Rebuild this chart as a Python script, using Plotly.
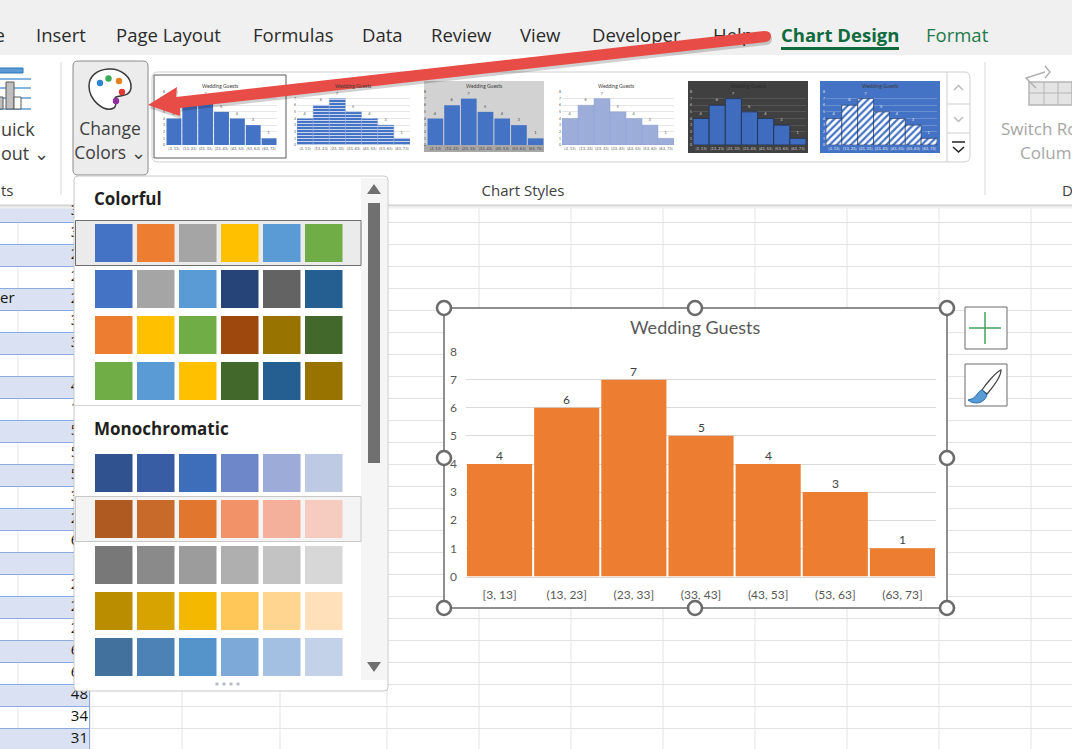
import plotly.graph_objects as go

# chart data
bins = ["[3, 13]", "(13, 23]", "(23, 33]", "(33, 43]", "(43, 53]", "(53, 63]", "(63, 73]"]
guests = [4, 6, 7, 5, 4, 3, 1]
y_ticks = [0, 1, 2, 3, 4, 5, 6, 7, 8]
chart_title = "Wedding Guests"

# palette rows in the Change Colors menu
colorful = [
    ["#4472C4", "#ED7D31", "#A5A5A5", "#FFC000", "#5B9BD5", "#70AD47"],
    ["#4472C4", "#A5A5A5", "#5B9BD5", "#264478", "#636363", "#255E91"],
    ["#ED7D31", "#FFC000", "#70AD47", "#9E480E", "#997300", "#43682B"],
    ["#70AD47", "#5B9BD5", "#FFC000", "#43682B", "#255E91", "#997300"],
]
monochromatic = [
    ["#30528F", "#385DA5", "#3E6DB9", "#6E87C8", "#9DABD8", "#BEC9E3"],
    ["#AE5A21", "#C76A2A", "#E1762F", "#F29268", "#F4B09B", "#F6CBC0"],
    ["#787878", "#8A8A8A", "#9C9C9C", "#AFAFAF", "#C3C3C3", "#D7D7D7"],
    ["#BA8C00", "#D7A300", "#F4B800", "#FFC758", "#FFD58F", "#FFE0BA"],
    ["#41719C", "#4C82B5", "#5593CB", "#7DA9D8", "#A3BFE2", "#C3D2E9"],
]

# spreadsheet column behind the menu, mostly hidden
sheet_values = ["35", "31", "25", "27", "24", "33", "36", "", "42", "18", "52", "50", "55", "30",
                "27", "60", "", "23", "29", "26", "63", "64", "48", "34", "31"]

tabs = ["Insert", "Page Layout", "Formulas", "Data", "Review", "View", "Developer", "Help"]
tab_x = [36, 116, 253, 362, 431, 520, 592, 713]

W, H = 1072, 749
FONT_UI = "Open Sans"
FONT_CHART = "Lato"
GREY_TEXT = "#595959"

shapes = []
notes = []
fig = go.Figure()


def rect(x0, y0, x1, y1, fill="rgba(0,0,0,0)", line=None, width=1, layer="below"):
    shapes.append(dict(type="rect", xref="x", yref="y", x0=x0, y0=y0, x1=x1, y1=y1, fillcolor=fill,
                       line=dict(color=line or "rgba(0,0,0,0)", width=width if line else 0), layer=layer))


def hline(x0, x1, y, color, width=1, layer="below"):
    shapes.append(dict(type="line", xref="x", yref="y", x0=x0, x1=x1, y0=y, y1=y,
                       line=dict(color=color, width=width), layer=layer))


def vline(x, y0, y1, color, width=1, layer="below"):
    shapes.append(dict(type="line", xref="x", yref="y", x0=x, x1=x, y0=y0, y1=y1,
                       line=dict(color=color, width=width), layer=layer))


def path(d, fill="rgba(0,0,0,0)", line=None, width=1, layer="below", opacity=1):
    shapes.append(dict(type="path", xref="x", yref="y", path=d, fillcolor=fill, opacity=opacity,
                       line=dict(color=line or "rgba(0,0,0,0)", width=width if line else 0), layer=layer))


def round_rect(x0, y0, x1, y1, r=5, **kw):
    d = (f"M {x0+r} {y0} L {x1-r} {y0} Q {x1} {y0} {x1} {y0+r} L {x1} {y1-r} Q {x1} {y1} {x1-r} {y1} "
         f"L {x0+r} {y1} Q {x0} {y1} {x0} {y1-r} L {x0} {y0+r} Q {x0} {y0} {x0+r} {y0} Z")
    path(d, **kw)


def circle(cx, cy, r, fill, line=None, width=1, layer="above"):
    shapes.append(dict(type="circle", xref="x", yref="y", x0=cx-r, x1=cx+r, y0=cy-r, y1=cy+r, fillcolor=fill,
                       line=dict(color=line or "rgba(0,0,0,0)", width=width if line else 0), layer=layer))


def ui_text(text, x, y, size=18, color="#262626", pos="middle right", font=FONT_UI):
    # text that the arrow and the menu have to cover goes in as a trace
    if not isinstance(text, list):
        text, x, y = [text], [x], [y]
    fig.add_trace(go.Scatter(x=x, y=y, text=text, mode="text", textposition=pos, cliponaxis=False,
                             textfont=dict(size=size, color=color, family=font),
                             hoverinfo="skip", xaxis="x", yaxis="y"))


def note(text, x, y, size=18, color="#262626", anchor="left", bold=False, font=FONT_UI):
    notes.append(dict(text=f"<b>{text}</b>" if bold else text, x=x, y=y, xref="x", yref="y", showarrow=False,
                      xanchor=anchor, yanchor="middle", font=dict(size=size, color=color, family=font)))


# --- spreadsheet behind everything
for x in [90, 182, 280, 387, 479, 571, 663, 755, 847, 939, 1031]:
    vline(x, 205, H, "#E3E3E3")
for i in range(25):
    hline(90, W, 200.5 + 22 * i, "#E3E3E3")
for i in range(25):
    top = 200.5 + 22 * i
    if i % 2 == 0:
        rect(0, top, 89, top + 22, fill="#D9E1F2")
    else:
        vline(18, top, top + 22, "#E3E3E3")
for i in range(26):
    hline(0, 89, 200.5 + 22 * i, "#8EA9DB")
vline(89.5, 200, H, "#8EA9DB")
ui_text(sheet_values, [88] * len(sheet_values), [211 + 22 * i for i in range(len(sheet_values))], size=15,
        color="#111111", pos="middle left")
ui_text("er", 0, 299, size=15, color="#111111")

# --- ribbon
rect(0, 0, W, 55, fill="#F0F0F0")
rect(0, 55, W, 205, fill="#FFFFFF")
hline(0, W, 205.5, "#D4D4D4", width=2)
hline(0, W, 207.5, "#EFEFEF", width=2)
ui_text("e", 5, 37, size=18.5, color="#2B2B2B", pos="middle left")
ui_text(tabs, tab_x, [37] * len(tabs), size=18.5, color="#2B2B2B")
ui_text("<b>Chart Design</b>", 781, 37, size=18.5, color="#0F6B3E")
ui_text("Format", 926, 37, size=18.5, color="#1D7A4A")
hline(781, 899, 48.5, "#0F6B3E", width=3)
vline(61, 62, 195, "#D8D8D8")
vline(985, 62, 195, "#D8D8D8")

# quick layout icon
rect(-2, 68, 23, 73, fill="#5B9BD5", line="#2E75B6")
for y in [79, 88, 98, 109]:
    hline(0, 31, y, "#5B9BD5", width=1.5)
rect(6, 82, 14, 109, fill="#BFBFBF", line="#595959")
rect(14, 97, 21, 109, fill="#FFFFFF", line="#595959")
rect(-2, 97, 3, 109, fill="#BFBFBF", line="#595959")
ui_text("uick", 1, 131, size=18, color="#404040")
ui_text("out ⌄", 1, 155, size=18, color="#404040")
ui_text("ts", 1, 192, size=15, color="#404040")

# change colors button with the palette icon
round_rect(73, 61, 148, 175, r=5, fill="#ECECEC", line="#8A8A8A")
path("M 108 69 C 122 68 132 78 131 88 C 130 97 120 95 116 97 C 112 99 119 104 114 108 "
     "C 104 113 89 100 89 86 C 89 76 97 70 108 69 Z", fill="#FFFFFF", line="#3A3A3A", width=1.5)
for cx, cy, c in [(100, 83, "#2E86D1"), (108.5, 78.5, "#3DAA57"), (119, 81, "#E8821E"),
                  (122, 92, "#E53935"), (116, 101, "#8E2FA0")]:
    circle(cx, cy, 3.2, c, layer="below")
ui_text("Change", 110, 131, size=17.5, color="#404040", pos="middle center")
ui_text("Colors ⌄", 110, 155, size=17.5, color="#404040", pos="middle center")

# style gallery
round_rect(152, 72, 970, 162, r=6, fill="#FFFFFF", line="#CFCFCF")
vline(947, 72, 162, "#CFCFCF")
hline(947, 970, 104, "#CFCFCF")
hline(947, 970, 133, "#CFCFCF")
path("M 954 90 L 958.5 85.5 L 963 90", line="#BDBDBD", width=1.5)
path("M 954 117 L 958.5 121.5 L 963 117", line="#BDBDBD", width=1.5)
hline(952, 965, 142, "#222222", width=1.5)
path("M 953 147 L 958.5 152 L 964 147", line="#222222", width=1.5)
ui_text("Chart Styles", 523, 192, size=15, color="#404040", pos="middle center")

# switch row / column button, greyed out
rect(1029, 82, 1072, 105, fill="#E4E4E4", line="#B5B5B5", width=1.5)
for x in [1044, 1058]:
    vline(x, 82, 105, "#B5B5B5")
hline(1029, 1072, 93, "#B5B5B5")
path("M 1036 88 L 1026 78 L 1045 72 M 1045 66 L 1050 72 L 1045 78", line="#B0B0B0", width=1.5)
ui_text("Switch Ro", 1001, 131, size=17, color="#A6A6A6")
ui_text("Colum", 1020, 155, size=17, color="#A6A6A6")
ui_text("D", 1062, 192, size=15, color="#404040")

# --- main chart
PLOT_L, PLOT_R, PLOT_T, PLOT_B = 466, 936, 351.5, 576.5
rect(444, 308, 947, 608, fill="#FFFFFF", line="#6B6B6B", width=1.5)
for x in [444, 695, 947]:
    for y in [308, 458, 608]:
        if (x, y) != (695, 458):
            circle(x, y, 7, "#FFFFFF", line="#6B6B6B", width=2.6)

rect(965, 307, 1007, 349, fill="#FFFFFF", line="#6B6B6B", width=1)
hline(969, 1001, 328, "#3FA45B", width=1.5)
vline(985, 312, 344, "#3FA45B", width=1.5)
rect(965, 364, 1007, 406, fill="#FFFFFF", line="#6B6B6B", width=1)
path("M 1001 370 C 996 372 986 384 982 390 L 987 394 C 992 388 1001 378 1001 370 Z", fill="#FFFFFF", line="#404040", width=1.2)
path("M 982 390 C 976 392 978 398 968 400 C 974 405 984 404 987 395 Z", fill="#5B9BD5", line="#1F6FB5", width=1)

fig.add_trace(go.Bar(x=bins, y=guests, marker=dict(color="#ED7D31", line=dict(width=0)),
                     hoverinfo="skip", xaxis="x2", yaxis="y2"))
# data labels sit closer to the bars than textposition outside allows
for b, v in zip(bins, guests):
    notes.append(dict(text=str(v), x=b, y=v, xref="x2", yref="y2", showarrow=False, yanchor="bottom", yshift=-1,
                      font=dict(size=12, color="#404040", family=FONT_CHART)))
note(chart_title, 695, 327, size=18, color=GREY_TEXT, anchor="center", font=FONT_CHART)

# gallery thumbnails reuse the same counts
thumbs = [
    dict(box=(159, 81, 281, 153), plot=(166, 277), bg="#FFFFFF", bar=dict(color="#4472C4"), text="#595959", grid="#E6E6E6"),
    dict(box=(293, 81, 412, 153), plot=(297, 410), bg="#FFFFFF",
         bar=dict(color="#4472C4", line=dict(color="#8FAADC", width=0.5),
                  pattern=dict(shape="-", bgcolor="#4472C4", fgcolor="#C9D6EE", size=3, solidity=0.35)),
         text="#595959", grid="#E6E6E6", gap=0),
    dict(box=(424, 81, 544, 152), plot=(427, 544), bg="#D2D2D2", bar=dict(color="#4472C4"), text="#404040", grid="#D2D2D2"),
    dict(box=(556, 81, 676, 153), plot=(562, 674), bg="#FFFFFF",
         bar=dict(color="#9DADD9", line=dict(color="#8EA0D2", width=0.5)), text="#595959", grid="#E6E6E6", gap=0),
    dict(box=(688, 81, 808, 153), plot=(693, 806), bg="#404040",
         bar=dict(color="#3F6CBE", line=dict(color="#1F2F4F", width=0.8)), text="#D0D0D0", grid="#555555", gap=0),
    dict(box=(820, 81, 940, 153), plot=(826, 937), bg="#4472C4",
         bar=dict(color="#FFFFFF", line=dict(color="#1F2F55", width=0.6),
                  pattern=dict(shape="/", bgcolor="#FFFFFF", fgcolor="#4472C4", size=5, solidity=0.45)),
         text="#E8EEF8", grid="#6A90D0", gap=0),
]
rect(154, 75, 286, 158, fill="#FFFFFF", line="#5A5A5A", width=1)
axes = {}
for i, t in enumerate(thumbs):
    n = i + 3
    x0, y0, x1, y1 = t["box"]
    rect(x0, y0, x1, y1, fill=t["bg"])
    if i == 2:
        rect(x0, 145, x1, y1, fill="#A8A8A8")
    fig.add_trace(go.Bar(x=bins, y=guests, text=guests, textposition="outside", cliponaxis=False, marker=t["bar"],
                         textfont=dict(size=4, color=t["text"], family=FONT_CHART), hoverinfo="skip",
                         xaxis=f"x{n}", yaxis=f"y{n}", width=1 - t.get("gap", 0.06)))
    axes[f"xaxis{n}"] = dict(domain=[t["plot"][0] / W, t["plot"][1] / W], anchor=f"y{n}", showgrid=False, zeroline=False,
                             showline=False, ticks="", tickfont=dict(size=4, color=t["text"], family=FONT_CHART),
                             tickangle=0, fixedrange=True, automargin=False)
    axes[f"yaxis{n}"] = dict(domain=[1 - 145 / H, 1 - 92 / H], anchor=f"x{n}", range=[0, 8], tickvals=y_ticks,
                             showgrid=True, gridcolor=t["grid"], gridwidth=0.5, zeroline=False, ticks="",
                             tickfont=dict(size=3.5, color=t["text"], family=FONT_CHART), fixedrange=True, automargin=False)
    note(chart_title, (x0 + x1) / 2, 85.5, size=5, color="#3A3A3A" if i != 4 else "#2A2A2A", anchor="center", font=FONT_CHART)

# --- change colors menu, over the sheet
round_rect(74, 176, 388, 691, r=4, fill="#FFFFFF", line="#C8C8C8", layer="above")
rect(361, 178, 387, 680, fill="#F5F5F5", layer="above")
rect(368, 203, 380, 463, fill="#707070", layer="above")
path("M 374 184 L 381 194 L 367 194 Z", fill="#707070", layer="above")
path("M 367 662 L 381 662 L 374 672 Z", fill="#707070", layer="above")
for x in [217, 224, 231, 238]:
    rect(x - 1.5, 682.5, x + 1.5, 685.5, fill="#B8BCC4", layer="above")
hline(75, 361, 405.5, "#D4D4D4", layer="above")
rect(75.5, 220.5, 361, 265.5, fill="#EBEBEB", line="#6E6E6E", layer="above")
rect(75.5, 496.5, 361, 541.5, fill="#F4F4F4", line="#C8C8C8", layer="above")
note("Colorful", 92, 198.5, size=17, color="#1F1F1F", bold=True)
note("Monochromatic", 92, 428, size=17, color="#1F1F1F", bold=True)

swatch_x = [95, 137, 179, 221, 263, 305]
for row, top in zip(colorful, [224, 270, 316, 362]):
    for x, c in zip(swatch_x, row):
        rect(x, top, x + 37.5, top + 38, fill=c, layer="above")
for row, top in zip(monochromatic, [454, 500, 546, 592, 638]):
    for x, c in zip(swatch_x, row):
        rect(x, top, x + 37.5, top + 38, fill=c, layer="above")


# --- red arrow, shadow first
def arrow_path(dx, dy):
    p = [(148, 105), (177, 87), (176, 97), (764, 31)]
    end = [(771, 31), (771, 36), (771, 41), (766, 42)]
    q = [(180, 108), (180, 116)]
    m = lambda pt: f"{pt[0]+dx} {pt[1]+dy}"
    return (f"M {m(p[0])} L {m(p[1])} L {m(p[2])} L {m(p[3])} Q {m(end[0])} {m(end[1])} Q {m(end[2])} {m(end[3])} "
            f"L {m(q[0])} L {m(q[1])} Z")


path(arrow_path(1, 3), fill="#000000", layer="above", opacity=0.18)
path(arrow_path(0, 0), fill="#E84C47", layer="above")

fig.update_layout(
    template="none",
    width=W, height=H, autosize=False, margin=dict(l=0, r=0, t=0, b=0, pad=0, autoexpand=False),
    paper_bgcolor="#FFFFFF", plot_bgcolor="rgba(0,0,0,0)", showlegend=False, hovermode=False,
    shapes=shapes, annotations=notes,
    xaxis=dict(domain=[0, 1], range=[0, W], visible=False, fixedrange=True, automargin=False),
    yaxis=dict(domain=[0, 1], range=[H, 0], visible=False, fixedrange=True, automargin=False),
    xaxis2=dict(domain=[PLOT_L / W, PLOT_R / W], anchor="y2", showgrid=False, zeroline=False, showline=True,
                linecolor="#D9D9D9", ticks="", ticklabelstandoff=7, tickangle=0, automargin=False,
                tickfont=dict(size=12, color=GREY_TEXT, family=FONT_CHART), fixedrange=True),
    yaxis2=dict(domain=[1 - PLOT_B / H, 1 - PLOT_T / H], anchor="x2", range=[0, 8], tickvals=y_ticks, showgrid=True,
                gridcolor="#D9D9D9", gridwidth=1, zeroline=False, ticks="", ticklabelstandoff=8, automargin=False,
                tickfont=dict(size=12, color=GREY_TEXT, family=FONT_CHART), fixedrange=True),
    bargap=0.03,
    **axes,
)
# page body has a default margin that would shift the whole canvas
fig.write_html("out.html", config={"displayModeBar": False}, post_script="document.body.style.margin='0';")
